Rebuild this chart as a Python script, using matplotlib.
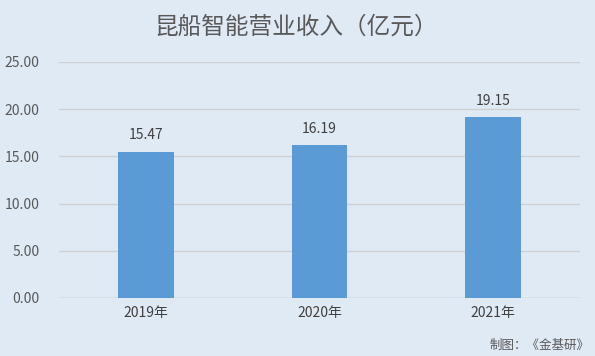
import matplotlib
matplotlib.use("Agg")
import matplotlib.pyplot as plt

plt.rcParams['font.family'] = ['Noto Sans CJK SC', 'DejaVu Sans']

categories = ["2019年", "2020年", "2021年"]
values = [15.47, 16.19, 19.15]
yticks = [0, 5, 10, 15, 20, 25]

bg = "#dfeaf5"
bar_color = "#5b9bd5"
text_color = "#595959"

fig = plt.figure(figsize=(5.95, 3.56), dpi=100, facecolor=bg)
ax = fig.add_axes([0.099, 0.163, 0.876, 0.663], facecolor=bg)

x = list(range(len(categories)))
bars = ax.bar(x, values, width=0.32, color=bar_color, zorder=3)
for xi, v in zip(x, values):
    ax.text(xi, v + 1.0, f"{v:.2f}", ha="center", va="bottom", fontsize=10, color="#404040")

ax.set_xlim(-0.5, 2.5)
ax.set_ylim(0, 25)
ax.set_yticks(yticks)
ax.set_yticklabels([f"{t:.2f}" for t in yticks], fontsize=10, color=text_color)
ax.set_xticks(x)
ax.set_xticklabels(categories, fontsize=10, color="#404040")
ax.yaxis.grid(True, color="#d0d0d0", linewidth=1, zorder=0)
ax.tick_params(axis="both", length=0)
ax.tick_params(axis="y", pad=14)
ax.tick_params(axis="x", pad=6)
for s in ax.spines.values():
    s.set_visible(False)
ax.axhline(0, color="#d0d0d0", linewidth=1, zorder=2)

fig.text(0.497, 0.925, "昆船智能营业收入（亿元）", ha="center", va="center", fontsize=17, color=text_color)
fig.text(0.99, 0.03, "制图：《金基研》", ha="right", va="center", fontsize=9, color=text_color)

fig.savefig("out.png", dpi=100, facecolor=bg)
